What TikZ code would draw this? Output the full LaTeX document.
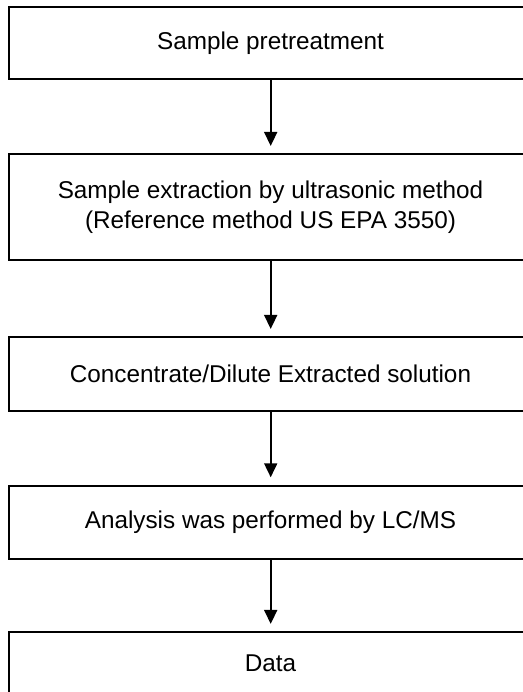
\documentclass[tikz,border=0pt]{standalone}
\usepackage{fontspec}
\setmainfont{Liberation Sans}
\usetikzlibrary{arrows.meta}
\begin{document}
\begin{tikzpicture}[x=1pt,y=-1pt,
  stepbox/.style={draw=black, line width=1.8pt, rectangle, minimum width=523pt, align=center, inner sep=0pt,
    font=\fontsize{24.3}{30}\selectfont},
  flow/.style={line width=1.8pt, -{Triangle[width=13pt,length=14pt]}, shorten >=7.5pt}]
\useasboundingbox[fill=white] (0,0) rectangle (522,692);
\node[stepbox, minimum height=71.7pt] (s1) at (270.5,43.2) {Sample pretreatment};
\node[stepbox, minimum height=105.7pt] (s2) at (270.5,207.2) {Sample extraction by ultrasonic method\\(Reference method US EPA 3550)};
\node[stepbox, minimum height=73.7pt] (s3) at (270.5,374.2) {Concentrate/Dilute Extracted solution};
\node[stepbox, minimum height=73.6pt] (s4) at (270.5,522.5) {Analysis was performed by LC/MS};
\node[stepbox, minimum height=62pt, text depth=0pt] (s5) at (270.5,663.3) {Data};
\draw[flow] (s1.south -| 270.7,0) -- (s2.north -| 270.7,0);
\draw[flow] (s2.south -| 270.7,0) -- (s3.north -| 270.7,0);
\draw[flow] (s3.south -| 270.7,0) -- (s4.north -| 270.7,0);
\draw[flow] (s4.south -| 270.7,0) -- (s5.north -| 270.7,0);
\end{tikzpicture}
\end{document}
